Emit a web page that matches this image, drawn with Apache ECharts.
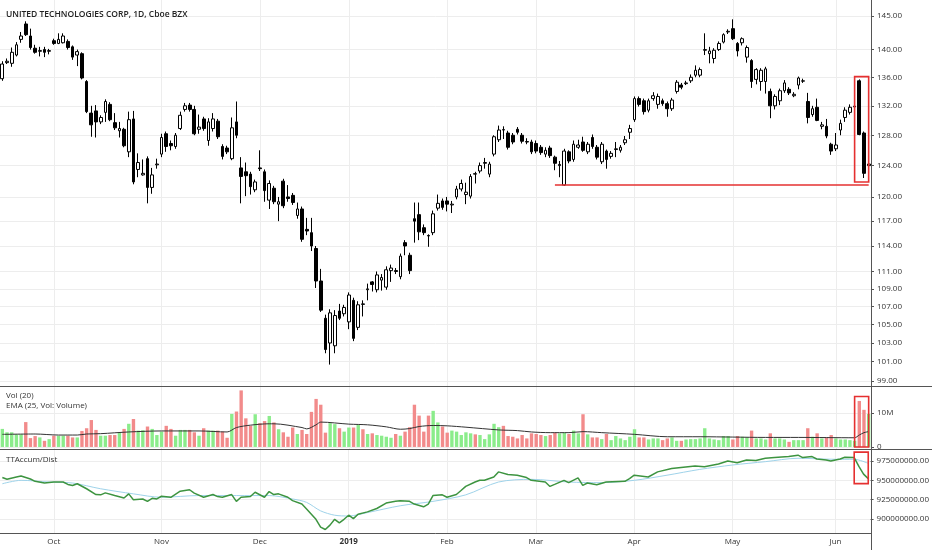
<!DOCTYPE html>
<html><head><meta charset="utf-8">
<script src="https://cdn.jsdelivr.net/npm/echarts@6/dist/echarts.min.js"></script>
<style>html,body{margin:0;padding:0;background:#fff}#c{width:932px;height:550px}</style>
</head><body><div id="c"></div>
<script>
const chartTitle = 'UNITED TECHNOLOGIES CORP, 1D, Cboe BZX';
const volTitle = 'Vol (20)';
const emaTitle = 'EMA (25, Vol: Volume)';
const adTitle = 'TTAccum/Dist';
const firstDay = '2018-09-14';
const lastDay = '2019-06-12';
const holidays = ['2018-11-22','2018-12-05','2018-12-25','2019-01-01','2019-01-21','2019-02-18','2019-04-19','2019-05-27'];
const monthNames = ['Jan','Feb','Mar','Apr','May','Jun','Jul','Aug','Sep','Oct','Nov','Dec'];

// [open, close, low, high] per trading day
const ohlc = [
[135.8,137.9,135.5,138.3],[138.1,138.3,137.9,138.7],[138.0,139.6,137.5,140.3],[139.2,140.7,139.0,141.1],[141.5,142.0,141.0,142.6],
[143.8,142.2,142.0,144.2],[142.0,140.3,140.0,143.1],[140.2,139.6,139.4,140.7],[139.75,139.85,139.0,140.4],[140.0,139.6,138.9,140.4],
[139.75,139.85,139.3,140.1],[141.3,140.9,140.7,141.6],[140.9,141.5,140.8,142.4],[141.0,142.0,140.9,142.4],[141.2,140.3,140.0,141.5],
[140.4,138.9,138.5,140.6],[139.2,139.7,137.6,140.0],[139.4,135.9,135.7,139.6],[135.4,131.2,131.0,135.6],[131.0,129.4,127.8,132.0],
[131.3,129.8,127.7,132.1],[129.8,130.4,129.5,130.7],[131.1,132.6,129.8,132.9],[132.2,130.1,129.9,132.5],[129.7,129.0,128.7,131.0],
[128.6,128.9,127.7,129.8],[128.8,126.6,126.4,129.0],[125.8,130.1,125.1,131.2],[130.2,121.9,121.6,131.3],[123.5,124.4,122.5,125.6],
[122.8,123.0,122.7,124.8],[124.9,121.2,119.2,125.2],[121.2,122.8,120.4,123.7],[124.1,124.2,123.6,124.9],[125.5,127.7,125.1,128.2],
[128.2,126.5,125.8,128.5],[126.9,126.6,126.0,127.3],[126.5,128.0,126.2,128.3],[128.9,130.7,128.7,131.2],[131.5,132.0,131.2,132.4],
[132.1,131.5,131.2,132.4],[131.5,128.2,128.0,132.0],[128.8,129.1,128.2,130.8],[130.2,128.9,128.6,130.5],[127.3,129.8,126.6,130.3],
[128.9,130.2,128.5,131.0],[129.9,127.8,127.5,130.2],[126.5,125.2,124.8,126.8],[126.3,125.8,125.5,126.6],[124.9,129.0,124.7,130.4],
[129.8,128.0,127.6,132.6],[123.7,122.6,119.2,125.1],[123.2,122.7,120.1,124.4],[122.9,121.3,120.3,123.2],[120.9,121.9,120.6,122.2],
[123.7,123.6,123.3,126.0],[123.2,120.8,119.4,123.5],[119.6,121.7,118.5,122.1],[121.1,119.4,119.1,121.4],[119.1,119.4,117.0,120.0],
[122.0,118.9,118.6,122.3],[120.0,119.8,119.4,121.5],[120.2,119.3,119.0,120.5],[117.7,118.5,117.3,119.3],[118.5,114.8,114.5,118.8],
[116.0,115.8,115.3,117.4],[115.6,114.0,113.4,117.4],[113.7,109.9,109.1,114.0],[109.9,106.6,106.4,111.3],[105.7,102.3,101.9,106.1],
[103.0,106.3,100.7,106.7],[102.7,106.0,101.9,106.6],[106.5,105.7,105.5,107.3],[106.2,106.9,105.9,107.2],[105.3,108.3,104.5,108.6],
[107.7,103.5,103.2,108.0],[104.7,107.2,104.4,107.6],[107.3,107.25,105.9,107.7],[108.9,109.0,107.7,109.6],[109.8,109.5,108.7,109.9],
[108.9,110.6,108.6,111.0],[110.0,110.3,108.8,110.7],[109.2,111.2,108.9,111.6],[111.1,111.4,109.8,111.8],[111.1,111.0,110.7,111.4],
[110.4,112.8,110.1,113.1],[114.4,114.0,112.9,114.7],[112.9,111.1,110.7,113.2],[117.3,117.0,114.4,119.3],[117.8,115.7,114.7,119.3],
[116.2,115.6,115.3,116.6],[115.25,115.2,113.9,115.4],[115.6,117.9,115.3,118.3],[118.6,119.2,118.3,120.3],[119.5,118.7,118.4,119.8],
[119.5,119.1,118.2,120.0],[119.0,119.1,118.0,119.5],[120.0,121.0,119.7,121.4],[121.0,121.7,120.7,122.2],[120.3,120.6,119.1,121.8],
[120.1,122.6,119.8,122.9],[122.95,122.9,121.7,123.2],[123.3,124.0,123.0,124.4],[124.3,124.4,123.6,125.0],[122.9,124.2,122.5,124.5],
[125.5,127.8,125.2,128.0],[127.4,128.7,127.1,129.3],[128.75,128.7,127.5,129.2],[128.3,126.4,126.1,128.6],[128.0,127.1,126.8,128.3],
[128.8,128.4,128.1,129.1],[128.0,127.2,126.9,128.3],[127.15,127.1,126.8,127.6],[127.1,125.8,125.5,127.4],[126.9,125.9,125.6,127.3],
[126.4,125.7,125.4,126.7],[125.5,126.0,125.1,126.4],[126.3,125.3,125.0,126.6],[125.1,124.3,123.4,125.3],[124.0,124.15,122.5,124.6],
[121.5,125.9,121.4,126.2],[125.8,124.6,124.3,126.0],[124.8,126.8,124.5,127.3],[126.4,126.7,126.2,127.4],[127.1,126.0,125.8,127.8],
[125.8,126.8,125.5,127.1],[127.7,126.5,126.2,128.1],[126.4,125.1,124.8,126.7],[124.5,126.8,124.2,127.1],[125.9,124.8,123.6,126.1],
[125.2,125.6,124.9,125.9],[126.1,126.2,125.1,127.1],[126.0,126.4,125.7,126.7],[127.0,127.4,126.7,127.9],[128.4,128.9,127.5,129.4],
[130.1,133.0,129.8,133.3],[133.0,132.2,131.9,133.3],[132.7,131.2,130.8,133.0],[131.4,132.7,131.1,133.0],[133.0,133.4,132.7,133.9],
[132.2,133.3,131.6,133.7],[132.7,132.3,132.0,133.0],[132.3,131.6,130.5,132.6],[131.6,132.8,131.3,133.1],[134.0,135.3,133.7,135.6],
[134.9,134.6,134.3,135.2],[135.1,135.2,134.9,135.5],[135.5,136.0,135.2,136.4],[136.3,137.0,136.0,137.7],[136.3,137.1,136.0,137.4],
[139.9,140.0,139.2,142.4],[139.4,139.8,138.0,140.4],[138.7,139.9,138.0,140.2],[140.0,140.9,139.8,141.2],[141.1,142.2,140.9,142.4],
[142.6,142.7,142.3,143.0],[143.1,141.6,141.4,144.5],[140.9,139.8,139.0,141.1],[141.0,141.6,140.6,141.8],[138.9,140.3,138.1,140.6],
[138.4,135.4,134.5,138.6],[135.7,137.1,135.0,137.3],[135.4,137.0,134.1,137.3],[135.4,137.2,133.7,137.5],[134.0,132.0,130.3,134.4],
[132.0,133.3,131.5,133.6],[132.7,134.1,132.1,134.4],[134.1,135.2,133.8,135.6],[134.3,133.8,133.5,134.6],[133.4,133.6,133.2,133.9],
[134.9,135.9,134.3,136.1],[135.45,135.5,135.2,135.8],[132.6,130.4,129.6,133.8],[130.8,131.6,130.5,132.0],[131.8,130.0,129.9,133.0],
[129.2,129.4,128.8,129.8],[129.2,127.9,127.6,130.2],[126.8,125.9,125.4,127.0],[126.2,126.7,125.9,128.3],[128.7,129.6,128.0,130.1],
[130.4,131.4,129.8,131.8],[131.1,131.8,130.8,132.2],[131.85,131.95,131.6,132.3],[135.5,128.1,128.0,135.7],[128.3,123.0,122.4,128.5],
[124.0,124.2,123.8,124.4]
];

// daily volume, millions of shares
const volume = [
5.3,4.3,4.3,3.7,3.7,7.3,2.6,3.2,2.8,1.8,2.3,3.3,3.3,3.3,3.3,2.8,2.8,4.7,5.5,7.9,
5.0,3.3,3.3,3.5,3.5,4.3,5.3,6.8,8.2,4.8,4.9,6.0,5.3,3.5,4.5,6.2,5.3,3.3,5.0,5.0,
5.0,4.3,3.3,5.5,4.8,4.8,4.8,4.5,2.7,9.7,10.4,16.6,8.4,6.2,9.6,7.0,7.6,9.1,7.2,5.2,
4.3,3.0,5.7,3.8,5.0,3.8,10.3,14.1,12.4,4.2,7.0,6.7,5.5,4.5,5.7,5.7,6.5,5.2,3.8,4.0,
3.5,3.3,3.0,2.7,3.8,3.3,4.5,5.8,12.4,9.2,4.5,9.2,10.6,7.2,6.0,4.2,4.8,4.5,3.5,4.3,
4.0,3.7,3.5,2.3,3.7,6.8,5.8,6.2,3.2,3.0,2.5,3.5,2.5,4.0,3.8,3.5,3.2,3.5,4.2,4.0,
4.2,3.8,4.8,4.0,9.6,3.7,2.8,2.8,2.3,3.8,2.0,3.2,2.5,2.0,3.0,5.2,2.8,2.8,2.2,2.5,
2.5,2.0,2.5,2.8,1.8,1.8,2.2,2.3,2.3,2.5,5.5,2.5,2.2,2.0,3.2,3.2,2.2,3.2,3.0,2.8,
4.8,2.5,2.5,2.2,4.0,2.5,2.5,2.2,1.5,2.0,2.0,2.0,5.5,3.0,4.0,2.5,2.8,3.5,2.5,2.2,
2.2,2.0,1.8,13.5,10.9,9.7
];

// EMA(25) of volume, read at [day index, millions]
const volEma = [[0,3.7],[7,3.8],[12,3.5],[16,3.5],[18,3.8],[21,3.9],[27,4.4],[34,4.7],[42,4.7],[48,4.4],[50,5.7],[53,6.4],[57,6.8],[58,6.8],[64,5.7],[65,5.3],[67,6.5],[68,7.3],[74,6.7],[78,6.5],[82,5.9],[85,5.2],[87,5.4],[89,6.0],[92,6.3],[95,6.2],[99,5.8],[106,5.0],[110,4.8],[113,4.4],[117,4.2],[121,4.2],[124,4.5],[128,4.2],[135,3.7],[142,3.0],[149,3.0],[156,2.9],[163,2.8],[170,2.8],[182,2.7],[183,3.5],[184,4.2],[185,4.5]];

// TTAccum/Dist line, read at [day index, millions]
const adLine = [[0,953.6],[1,951.3],[3,954.3],[4,955.7],[6,951.7],[7,948.7],[9,946.5],[11,947.8],[13,947.8],[14,944.7],[15,943.4],[16,945.6],[18,939.1],[20,931.6],[21,931.2],[22,933.8],[24,930.3],[26,927.2],[27,932.5],[28,925.0],[30,925.9],[31,922.8],[32,926.7],[33,925.9],[34,929.4],[36,928.1],[38,935.9],[40,937.8],[41,933.4],[43,928.1],[45,931.6],[46,929.0],[47,928.1],[49,931.6],[50,922.8],[51,928.1],[53,929.0],[54,934.6],[56,928.1],[57,935.5],[58,931.6],[59,932.5],[61,928.1],[62,923.7],[64,919.3],[65,912.8],[67,899.6],[68,889.5],[69,886.4],[70,892.1],[71,899.6],[72,895.1],[73,899.6],[74,904.9],[75,900.5],[76,906.2],[78,909.2],[80,913.6],[82,920.6],[84,922.8],[85,923.7],[87,922.8],[88,919.3],[90,915.8],[91,919.3],[92,930.3],[94,931.2],[95,928.1],[97,931.6],[98,936.8],[99,942.1],[101,947.8],[102,950.0],[103,950.0],[105,954.3],[106,960.9],[108,957.5],[110,956.6],[112,953.6],[113,950.0],[116,947.8],[117,942.1],[118,944.7],[120,950.0],[121,947.0],[123,953.1],[124,943.4],[125,946.5],[127,944.3],[129,947.8],[133,948.7],[134,952.2],[135,956.6],[138,954.3],[140,960.9],[143,965.4],[148,968.4],[150,967.5],[153,971.1],[155,975.0],[157,972.8],[159,976.3],[161,975.7],[163,978.5],[165,979.4],[168,980.7],[170,982.5],[171,979.4],[173,980.7],[174,977.6],[176,976.3],[177,975.0],[179,977.6],[180,979.8],[182,979.4],[183,968.0],[184,958.0],[185,952.2]];

// TTAccum/Dist signal (light blue), read at [day index, millions]
const adSignal = [[0,945.6],[4,950.0],[10,947.8],[15,946.5],[21,939.1],[28,932.5],[34,928.1],[42,930.3],[50,930.3],[57,930.3],[62,925.9],[65,921.5],[68,910.5],[71,904.9],[74,903.9],[78,908.3],[85,917.1],[92,922.8],[99,931.2],[106,947.8],[113,951.3],[121,947.8],[128,947.0],[135,950.0],[142,956.6],[149,964.1],[156,969.8],[163,974.1],[170,978.5],[178,977.2],[182,977.2],[185,972.0]];

const priceTicks = [99,101,103,105,107,109,111,114,117,120,124,128,132,136,140,145];
const volTicks = [0,10];
const adTicks = [900,925,950,975];
const priceRange = [98.47,147.45];
const volRange = [-0.6,17.6];
const adRange = [881.9,989.2];
const highlight = {from:182,to:185,priceHigh:136.1,priceLow:121.9,volHigh:14.8,volLow:0,adHigh:986.4,adLow:945.7};
const support = {from:118,to:185,price:121.5};

// ---- layout / style ----
const GL = -1, GR = 61;
const P = {top:0,h:386}, V = {top:387,h:62}, A = {top:450,h:83};
const FONT = '"Open Sans", "Liberation Sans", sans-serif';
const TXT = '#333';
const GRIDC = '#ededed';
const AXC = '#555';
const RED = '#e53030';
const UPVOL = '#8bec8b', DNVOL = '#f28b8b';

function tradingDays(a, b, hol) {
  const out = [];
  const d = new Date(a + 'T00:00:00Z'), end = new Date(b + 'T00:00:00Z');
  while (d <= end) {
    const w = d.getUTCDay(), s = d.toISOString().slice(0, 10);
    if (w !== 0 && w !== 6 && !hol.includes(s)) out.push(s);
    d.setUTCDate(d.getUTCDate() + 1);
  }
  return out;
}
const dates = tradingDays(firstDay, lastDay, holidays);
const isMonthStart = (i) => i > 0 && i < dates.length && dates[i].slice(0, 7) !== dates[i - 1].slice(0, 7);
const ln = Math.log;

const candleData = ohlc.map(r => [ln(r[0]), ln(r[1]), ln(r[2]), ln(r[3])]);
const volData = volume.map((v, i) => ({value: v, itemStyle: {color: ohlc[i][1] >= ohlc[i][0] ? UPVOL : DNVOL}}));

const chart = echarts.init(document.getElementById('c'), null, {renderer: 'canvas'});

function xAx(gi, showLabel) {
  return {
    type: 'category', gridIndex: gi, data: dates, boundaryGap: true,
    axisLine: {show: showLabel, lineStyle: {color: AXC, width: 1}},
    axisTick: {show: false},
    axisLabel: {
      show: showLabel, interval: (i) => isMonthStart(i), margin: 5,
      color: TXT, fontSize: 8, fontFamily: FONT,
      formatter: (v) => { const m = +v.slice(5, 7); return m === 1 ? '{y|' + v.slice(0, 4) + '}' : monthNames[m - 1]; },
      rich: {y: {fontWeight: 'bold', fontSize: 8, fontFamily: FONT, color: TXT}}
    },
    splitLine: {show: true, interval: (i) => isMonthStart(i), alignWithLabel: true, lineStyle: {color: GRIDC, width: 1}}
  };
}
function yAx(gi, min, max, ticks, fmt) {
  return {
    type: 'value', gridIndex: gi, position: 'right', min: min, max: max, scale: true,
    axisLine: {show: false},
    axisTick: {show: true, length: 3, customValues: ticks, lineStyle: {color: AXC}},
    axisLabel: {show: true, customValues: ticks, formatter: fmt, margin: 6, color: TXT, fontSize: 8, fontFamily: FONT},
    splitLine: {show: true, lineStyle: {color: GRIDC, width: 1}}
  };
}

const hiFrom = dates[highlight.from], hiTo = dates[highlight.to];
const boxStyle = {color: 'rgba(0,0,0,0)', borderColor: RED, borderWidth: 1.6};

const option = {
  animation: false,
  backgroundColor: '#fff',
  textStyle: {fontFamily: FONT},
  title: [
    {text: chartTitle, left: 6, top: 10, padding: 0, textStyle: {fontSize: 8.5, fontWeight: 600, color: '#222', fontFamily: FONT}},
    {text: volTitle, left: 6, top: 392, padding: 0, textStyle: {fontSize: 8, fontWeight: 'normal', color: TXT, fontFamily: FONT}},
    {text: emaTitle, left: 6, top: 402, padding: 0, textStyle: {fontSize: 8, fontWeight: 'normal', color: TXT, fontFamily: FONT}},
    {text: adTitle, left: 6, top: 456, padding: 0, textStyle: {fontSize: 8, fontWeight: 'normal', color: TXT, fontFamily: FONT}}
  ],
  grid: [
    {left: GL, right: GR, top: P.top, height: P.h},
    {left: GL, right: GR, top: V.top, height: V.h},
    {left: GL, right: GR, top: A.top, height: A.h}
  ],
  xAxis: [xAx(0, false), xAx(1, false), xAx(2, true)],
  yAxis: [
    yAx(0, ln(priceRange[0]), ln(priceRange[1]), priceTicks.map(ln), (v) => Math.exp(v).toFixed(2)),
    yAx(1, volRange[0], volRange[1], volTicks, (v) => v === 0 ? '0' : Math.round(v) + 'M'),
    yAx(2, adRange[0], adRange[1], adTicks, (v) => (v * 1e6).toFixed(2))
  ],
  series: [
    {
      type: 'candlestick', xAxisIndex: 0, yAxisIndex: 0, data: candleData, barWidth: 3.2,
      itemStyle: {color: '#ffffff', color0: '#000000', borderColor: '#000000', borderColor0: '#000000', borderWidth: 1},
      markArea: {silent: true, z: 10, itemStyle: boxStyle, data: [[{xAxis: hiFrom, yAxis: ln(highlight.priceHigh)}, {xAxis: hiTo, yAxis: ln(highlight.priceLow)}]]},
      markLine: {silent: true, z: 10, symbol: ['none', 'none'], label: {show: false}, lineStyle: {color: RED, width: 1.6, type: 'solid'},
        data: [[{coord: [dates[support.from], ln(support.price)]}, {coord: [dates[support.to], ln(support.price)]}]]}
    },
    {
      type: 'bar', xAxisIndex: 1, yAxisIndex: 1, data: volData, barWidth: '72%'
    },
    {
      type: 'line', xAxisIndex: 1, yAxisIndex: 1, data: volEma, symbol: 'none', smooth: 0.3,
      lineStyle: {color: '#333', width: 1}, z: 5,
      markArea: {silent: true, z: 10, itemStyle: boxStyle, data: [[{xAxis: hiFrom, yAxis: highlight.volHigh}, {xAxis: hiTo, yAxis: highlight.volLow}]]}
    },
    {
      type: 'line', xAxisIndex: 2, yAxisIndex: 2, data: adSignal, symbol: 'none', smooth: 0.3,
      lineStyle: {color: '#9fd3ea', width: 1}
    },
    {
      type: 'line', xAxisIndex: 2, yAxisIndex: 2, data: adLine, symbol: 'none',
      lineStyle: {color: '#3d9440', width: 1.5}, z: 4,
      markArea: {silent: true, z: 10, itemStyle: boxStyle, data: [[{xAxis: hiFrom, yAxis: highlight.adHigh}, {xAxis: hiTo, yAxis: highlight.adLow}]]}
    }
  ],
  graphic: [
    {type: 'line', silent: true, shape: {x1: 0, y1: P.top + P.h + 0.5, x2: 932, y2: P.top + P.h + 0.5}, style: {stroke: AXC, lineWidth: 1}},
    {type: 'line', silent: true, shape: {x1: 0, y1: V.top + V.h + 0.5, x2: 932, y2: V.top + V.h + 0.5}, style: {stroke: AXC, lineWidth: 1}},
    {type: 'line', silent: true, shape: {x1: 932 - GR + 0.5, y1: 0, x2: 932 - GR + 0.5, y2: 550}, style: {stroke: AXC, lineWidth: 1}}
  ]
};
chart.setOption(option);
</script></body></html>
